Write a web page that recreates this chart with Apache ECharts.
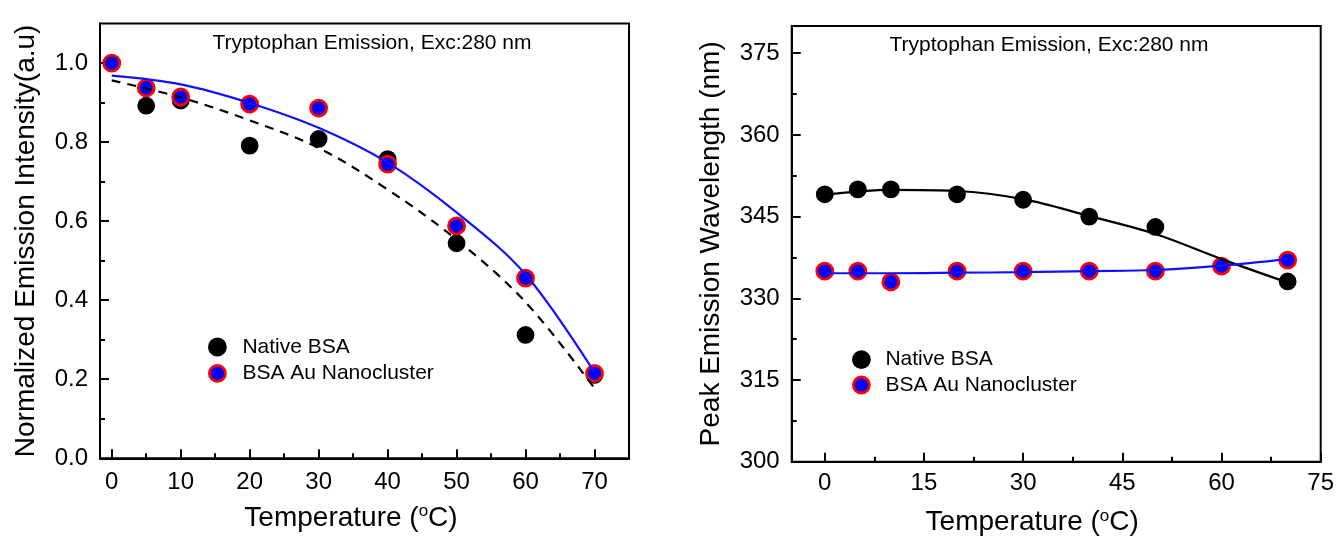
<!DOCTYPE html>
<html>
<head>
<meta charset="utf-8">
<script src="https://cdn.jsdelivr.net/npm/echarts@6/dist/echarts.min.js"></script>
<style>
html,body{margin:0;padding:0;background:#fff;}
#chart{width:1338px;height:544px;}
</style>
</head>
<body>
<div id="chart"></div>
<script>
// ---------- Data ----------
// Left panel: normalized emission intensity vs temperature
const leftTemps = [0, 5, 10, 20, 30, 40, 50, 60, 70];
const leftNative = [1.0, 0.892, 0.905, 0.791, 0.808, 0.757, 0.544, 0.312, 0.211];
const leftNano = [1.0, 0.937, 0.914, 0.896, 0.886, 0.744, 0.588, 0.456, 0.215];
const leftFitTemps = [0, 10, 20, 30, 40, 50, 60, 70];
const leftNativeFit = [0.956, 0.913, 0.855, 0.785, 0.680, 0.553, 0.395, 0.177];
const leftNanoFit = [0.968, 0.946, 0.899, 0.836, 0.748, 0.622, 0.465, 0.217];

// Right panel: peak emission wavelength vs temperature
const rightNativeTemps = [0, 5, 10, 20, 30, 40, 50, 70];
const rightNative = [349.1, 350.0, 350.0, 349.1, 348.1, 345.0, 343.1, 333.1];
const rightNanoTemps = [0, 5, 10, 20, 30, 40, 50, 60, 70];
const rightNano = [335.0, 335.0, 333.0, 335.0, 335.0, 335.0, 335.0, 335.9, 337.0];
const rightFitTemps = [0, 10, 20, 30, 40, 50, 60, 70];
const rightNativeFit = [349.0, 349.9, 349.7, 348.2, 345.1, 341.8, 337.2, 332.9];
const rightNanoFit = [334.6, 334.6, 334.7, 334.8, 335.0, 335.2, 336.0, 337.2];

// Tick values
const leftXTicks = [0, 10, 20, 30, 40, 50, 60, 70];
const leftXMinor = [5, 15, 25, 35, 45, 55, 65];
const leftYTicks = [0, 0.2, 0.4, 0.6, 0.8, 1.0];
const leftYMinor = [0.1, 0.3, 0.5, 0.7, 0.9];
const rightXTicks = [0, 15, 30, 45, 60, 75];
const rightXMinor = [7.5, 22.5, 37.5, 52.5, 67.5];
const rightYTicks = [300, 315, 330, 345, 360, 375];
const rightYMinor = [307.5, 322.5, 337.5, 352.5, 367.5];

const legendNames = ['Native BSA', 'BSA Au Nanocluster'];
const panelTitle = 'Tryptophan Emission, Exc:280 nm';

// ---------- Chart ----------
const FONT = '"Liberation Sans", Arial, sans-serif';
const zip = (xs, ys) => xs.map((x, i) => [x, ys[i]]);

function mainAxis(grid, min, max, ticks, extra) {
  return Object.assign({
    type: 'value', gridIndex: grid, min: min, max: max,
    axisLine: { show: true, onZero: false, lineStyle: { color: '#000', width: 2 } },
    axisTick: { show: true, inside: true, length: 9, customValues: ticks, lineStyle: { color: '#000', width: 2 } },
    splitLine: { show: false }
  }, extra);
}
function minorAxis(grid, min, max, ticks, pos) {
  return {
    type: 'value', gridIndex: grid, min: min, max: max, position: pos,
    axisLine: { show: false, onZero: false },
    axisTick: { show: true, inside: true, length: 5, customValues: ticks, lineStyle: { color: '#000', width: 2 } },
    axisLabel: { show: false },
    splitLine: { show: false }
  };
}

const nameRich = {
  sup: { fontSize: 17, fontFamily: FONT, color: '#000', padding: [0, 0, 13, 0] }
};

const option = {
  animation: false,
  backgroundColor: '#fff',
  textStyle: { fontFamily: FONT },
  grid: [
    { left: 100, right: 709, top: 23.5, bottom: 85.7, show: true, borderColor: '#000', borderWidth: 2, backgroundColor: 'transparent' },
    { left: 791.7, right: 17.3, top: 26, bottom: 82.3, show: true, borderColor: '#000', borderWidth: 2, backgroundColor: 'transparent' }
  ],
  xAxis: [
    mainAxis(0, -1.7, 75, leftXTicks, {
      position: 'bottom',
      name: 'Temperature ({sup|o}C)', nameLocation: 'middle', nameGap: 45,
      nameTextStyle: { fontSize: 28, color: '#000', fontFamily: FONT, padding: [0, 27, 0, 0], rich: nameRich },
      axisLabel: { show: true, customValues: leftXTicks, color: '#000', fontSize: 24, fontFamily: FONT, margin: 12 }
    }),
    minorAxis(0, -1.7, 75, leftXMinor, 'bottom'),
    mainAxis(1, -5, 75, rightXTicks, {
      position: 'bottom',
      name: 'Temperature ({sup|o}C)', nameLocation: 'middle', nameGap: 46,
      nameTextStyle: { fontSize: 28, color: '#000', fontFamily: FONT, padding: [0, 48, 0, 0], rich: nameRich },
      axisLabel: { show: true, customValues: rightXTicks, color: '#000', fontSize: 24, fontFamily: FONT, margin: 10 }
    }),
    minorAxis(1, -5, 75, rightXMinor, 'bottom')
  ],
  yAxis: [
    mainAxis(0, 0, 1.1, leftYTicks, {
      position: 'left',
      name: 'Normalized Emission Intensity(a.u)', nameLocation: 'middle', nameGap: 60, nameRotate: 90,
      nameTextStyle: { fontSize: 28, color: '#000', fontFamily: FONT },
      axisLabel: { show: true, customValues: leftYTicks, formatter: v => Number(v).toFixed(1), color: '#000', fontSize: 24, fontFamily: FONT, margin: 12 }
    }),
    minorAxis(0, 0, 1.1, leftYMinor, 'left'),
    mainAxis(1, 300, 380, rightYTicks, {
      position: 'left',
      name: 'Peak Emission Wavelength (nm)', nameLocation: 'middle', nameGap: 66, nameRotate: 90,
      nameTextStyle: { fontSize: 28, color: '#000', fontFamily: FONT },
      axisLabel: { show: true, customValues: rightYTicks, color: '#000', fontSize: 24, fontFamily: FONT, margin: 12 }
    }),
    minorAxis(1, 300, 380, rightYMinor, 'left')
  ],
  legend: [
    {
      data: legendNames, orient: 'vertical', left: 203, top: 331.5,
      itemWidth: 16, itemHeight: 16, itemGap: 5.4,
      itemStyle: { borderWidth: 2.8, opacity: 1 },
      textStyle: { fontSize: 21, lineHeight: 15, color: '#000', fontFamily: FONT, padding: [0, 0, 0, 12] },
      selectedMode: false
    },
    {
      data: legendNames, orient: 'vertical', left: 847, top: 344.1,
      itemWidth: 16, itemHeight: 16, itemGap: 4.4,
      itemStyle: { borderWidth: 2.8, opacity: 1 },
      textStyle: { fontSize: 21, lineHeight: 15, color: '#000', fontFamily: FONT, padding: [0, 0, 0, 11] },
      selectedMode: false
    }
  ],
  graphic: [
    { type: 'text', x: 372, y: 43, style: { text: panelTitle, textAlign: 'center', textVerticalAlign: 'middle', font: '21px ' + FONT, fill: '#000' } },
    { type: 'text', x: 1049, y: 45, style: { text: panelTitle, textAlign: 'center', textVerticalAlign: 'middle', font: '21px ' + FONT, fill: '#000' } }
  ],
  series: [
    // Left panel
    { name: 'Native BSA', type: 'scatter', xAxisIndex: 0, yAxisIndex: 0, z: 2,
      symbol: 'circle', symbolSize: 15, data: zip(leftTemps, leftNative),
      itemStyle: { color: '#000', borderColor: '#000', borderWidth: 2.8, opacity: 1 } },
    { name: 'BSA Au Nanocluster', type: 'scatter', xAxisIndex: 0, yAxisIndex: 0, z: 3,
      symbol: 'circle', symbolSize: 16, data: zip(leftTemps, leftNano),
      itemStyle: { color: '#0000ff', borderColor: '#ff0000', borderWidth: 2.8, opacity: 1 } },
    { name: 'Native BSA fit', type: 'line', xAxisIndex: 0, yAxisIndex: 0, z: 4,
      smooth: 0.35, showSymbol: false, symbol: 'none', data: zip(leftFitTemps, leftNativeFit),
      lineStyle: { color: '#000', width: 2.2, type: [9, 7] } },
    { name: 'BSA Au Nanocluster fit', type: 'line', xAxisIndex: 0, yAxisIndex: 0, z: 4,
      smooth: 0.35, showSymbol: false, symbol: 'none', data: zip(leftFitTemps, leftNanoFit),
      lineStyle: { color: '#1010ff', width: 2.2 } },
    // Right panel
    { name: 'Native BSA', type: 'scatter', xAxisIndex: 2, yAxisIndex: 2, z: 2,
      symbol: 'circle', symbolSize: 15, data: zip(rightNativeTemps, rightNative),
      itemStyle: { color: '#000', borderColor: '#000', borderWidth: 2.8, opacity: 1 } },
    { name: 'BSA Au Nanocluster', type: 'scatter', xAxisIndex: 2, yAxisIndex: 2, z: 3,
      symbol: 'circle', symbolSize: 16, data: zip(rightNanoTemps, rightNano),
      itemStyle: { color: '#0000ff', borderColor: '#ff0000', borderWidth: 2.8, opacity: 1 } },
    { name: 'Native BSA fit R', type: 'line', xAxisIndex: 2, yAxisIndex: 2, z: 4,
      smooth: 0.35, showSymbol: false, symbol: 'none', data: zip(rightFitTemps, rightNativeFit),
      lineStyle: { color: '#000', width: 2.2 } },
    { name: 'BSA Au Nanocluster fit R', type: 'line', xAxisIndex: 2, yAxisIndex: 2, z: 4,
      smooth: 0.35, showSymbol: false, symbol: 'none', data: zip(rightFitTemps, rightNanoFit),
      lineStyle: { color: '#1010ff', width: 2.2 } }
  ]
};

const chart = echarts.init(document.getElementById('chart'), null, { renderer: 'canvas' });
chart.setOption(option);
</script>
</body>
</html>
